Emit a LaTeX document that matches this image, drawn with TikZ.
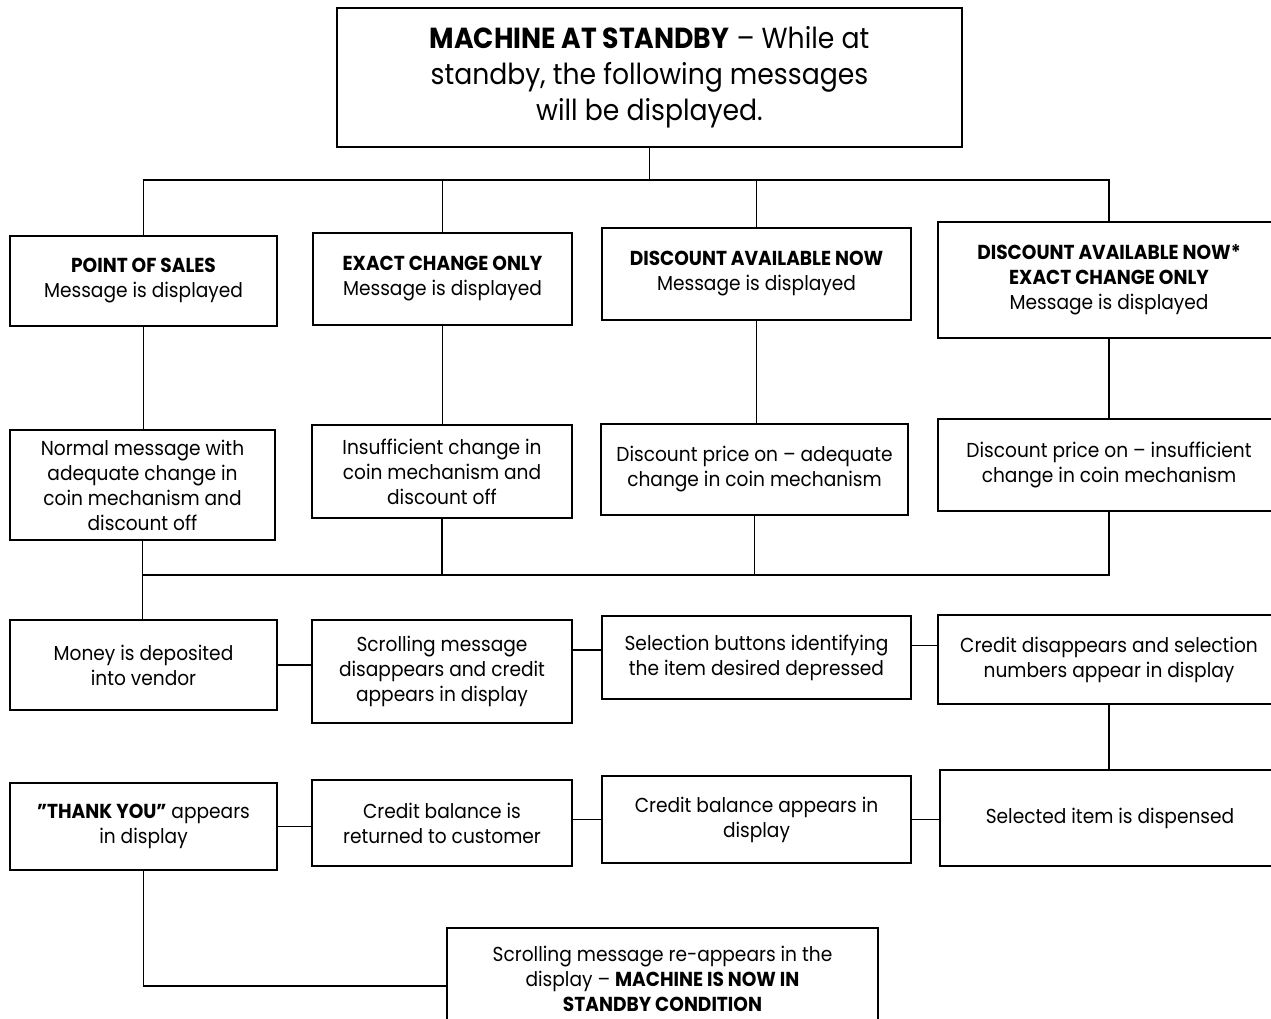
\documentclass[tikz,border=0pt]{standalone}
\usepackage{fontspec}
\setmainfont{Poppins}[FakeStretch=0.92]
\usetikzlibrary{calc}
\begin{document}
\begin{tikzpicture}[x=0.02cm,y=-0.02cm,
  box/.style={draw, line width=1.1pt, align=center, inner sep=2pt,
    font=\fontsize{11.5}{14.2}\selectfont},
  conn/.style={line width=1.1pt}]
\useasboundingbox (0,0) rectangle (1271,1018);
\clip (0,0) rectangle (1271,1018);
\newcommand\bx[6]{\node[box,minimum width=#3*0.02cm,minimum height=#4*0.02cm] (#1) at (#2) {#5#6};}
% top
\node[box,minimum width=625*0.02cm,minimum height=139*0.02cm,
  font=\fontsize{16.5}{20.5}\selectfont] (top) at (649.5,77.5)
  {\textbf{MACHINE AT STANDBY} – While at\\standby, the following messages\\will be displayed.};
% row 1
\bx{b1}{143.5,281}{267}{90}{\textbf{POINT OF SALES}\\Message is displayed}{}
\bx{b2}{442.5,279}{259}{92}{\textbf{EXACT CHANGE ONLY}\\Message is displayed}{}
\bx{b3}{756.5,274}{309}{92}{\textbf{DISCOUNT AVAILABLE NOW}\\Message is displayed}{}
\bx{b4}{1109,280}{342}{116}{\textbf{DISCOUNT AVAILABLE NOW*}\\\textbf{EXACT CHANGE ONLY}\\Message is displayed}{}
% row 2
\bx{c1}{142.5,485}{265}{110}{Normal message with\\adequate change in\\coin mechanism and\\discount off}{}
\bx{c2}{442,471.5}{260}{93}{Insufficient change in\\coin mechanism and\\discount off}{}
\bx{c3}{754.5,469.5}{307}{91}{Discount price on – adequate\\change in coin mechanism}{}
\bx{c4}{1109,465}{342}{92}{Discount price on – insufficient\\change in coin mechanism}{}
% row 3
\bx{d1}{143.5,665}{267}{90}{Money is deposited\\into vendor}{}
\bx{d2}{442,671.5}{260}{103}{Scrolling message\\disappears and credit\\appears in display}{}
\bx{d3}{756.5,657.5}{309}{83}{Selection buttons identifying\\the item desired depressed}{}
\bx{d4}{1109,659.5}{342}{89}{Credit disappears and selection\\numbers appear in display}{}
% row 4
\bx{e1}{143.5,826.5}{267}{87}{\textbf{"THANK YOU"} appears\\in display}{}
\bx{e2}{442,823}{260}{86}{Credit balance is\\returned to customer}{}
\bx{e3}{756.5,819.5}{309}{87}{Credit balance appears in\\display}{}
\bx{e4}{1110,818}{340}{96}{Selected item is dispensed}{}
% bottom
\bx{f}{662.5,979}{431}{102}{Scrolling message re-appears in the\\display – \textbf{MACHINE IS NOW IN}\\\textbf{STANDBY CONDITION}}{}
% connectors
\coordinate (bus1) at (0,180);
\coordinate (bus2) at (0,575);
\draw[conn] (top.south) -- (top.south |- bus1);
\draw[conn] (b1.north) |- (bus1 -| b4.north) -- (b4.north);
\draw[conn] (b2.north) -- (b2.north |- bus1);
\draw[conn] (b3.north) -- (b3.north |- bus1);
\draw[conn] (b1.south) -- (b1.south |- c1.north);
\draw[conn] (b2.south) -- (b2.south |- c2.north);
\draw[conn] (b3.south) -- (b3.south |- c3.north);
\draw[conn] (b4.south) -- (c4.north);
\draw[conn] (c4.south) |- (bus2 -| c1.south);
\draw[conn] (c2.south) -- (c2.south |- bus2);
\draw[conn] (c3.south) -- (c3.south |- bus2);
\draw[conn] (c1.south) -- (c1.south |- d1.north);
\draw[conn] (d1.east) -- (d1.east -| d2.west);
\draw[conn] ([yshift=0.15cm]d3.west -| d2.east) -- ([yshift=0.15cm]d3.west);
\draw[conn] ([yshift=0.24cm]d3.east) -- ([yshift=0.24cm]d3.east -| d4.west);
\draw[conn] (d4.south) -- (d4.south |- e4.north);
\draw[conn] (e1.east) -- (e1.east -| e2.west);
\draw[conn] (e3.west -| e2.east) -- (e3.west);
\draw[conn] (e3.east) -- (e3.east -| e4.west);
\draw[conn] (e1.south) |- ([yshift=-0.14cm]f.west);
\end{tikzpicture}
\end{document}
